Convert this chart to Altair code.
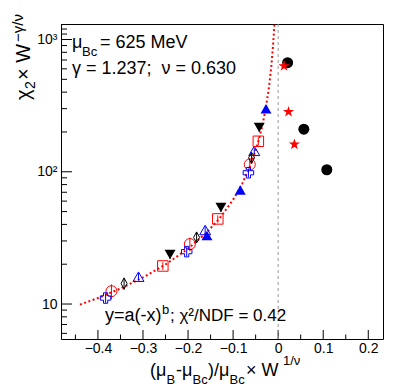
import altair as alt
import pandas as pd

FONT = "Liberation Sans"
NB = "\u00a0"

# ---------------- data ----------------
x_ticks_major = [-0.4, -0.3, -0.2, -0.1, 0.0, 0.1, 0.2]
x_ticks_minor = [-0.45, -0.35, -0.25, -0.15, -0.05, 0.05, 0.15]
y_ticks_major = [10, 100, 1000]
y_ticks_minor = [6, 7, 8, 9, 20, 30, 40, 50, 60, 70, 80, 90,
                 200, 300, 400, 500, 600, 700, 800, 900, 1100, 1200, 1300]
zero_line = [0.0]

circ_x = [-0.370, -0.196, -0.063]
circ_y = [12.5, 28.4, 113.5]
circ_err = [1.6, 3.4, 13.0]

cross_x = [-0.383, -0.203, -0.066]
cross_y = [11.1, 24.9, 98.3]
cross_err = [0.9, 2.0, 7.5]

diam_x = [-0.342, -0.181, -0.059]
diam_y = [14.3, 31.9, 127.6]
diam_err = [1.5, 3.0, 11.0]

otri_x = [-0.310, -0.162, -0.053]
otri_y = [16.1, 36.3, 144.0]
otri_err = [1.0, 2.2, 8.0]

sq_x = [-0.256, -0.134, -0.044]
sq_y = [19.4, 44.0, 170.0]
sq_err = [1.3, 2.8, 11.0]

dtri_x = [-0.240, -0.127, -0.042]
dtri_y = [23.7, 53.7, 216.0]
dtri_err = [1.8, 4.0, 15.0]

utri_x = [-0.158, -0.084, -0.027]
utri_y = [33.0, 72.8, 299.0]
utri_err = [1.5, 3.5, 14.0]

dot_x = [0.021, 0.057, 0.108]
dot_y = [668.0, 210.0, 103.6]

star_x = [0.013, 0.023, 0.036]
star_y = [631.0, 284.0, 161.0]

fit_x = [-0.44, -0.40, -0.35, -0.30, -0.25, -0.20, -0.16, -0.13, -0.10,
         -0.08, -0.06, -0.045, -0.035, -0.027, -0.020, -0.015, -0.011, -0.0083]
fit_y = [9.9, 11.1, 13.1, 15.9, 19.9, 26.2, 34.4, 44.4, 61.4,
         81.0, 115.0, 164.0, 224.0, 309.0, 446.0, 636.0, 935.0, 1310.0]

X_DOMAIN = [-0.482, 0.2327]
Y_DOMAIN = [5.44, 1310]
W, H = 322, 315

# ---------------- scales / axes ----------------
xscale = alt.Scale(domain=X_DOMAIN, nice=False, zero=False)
yscale = alt.Scale(type="log", domain=Y_DOMAIN, nice=False)
xaxis = alt.Axis(values=x_ticks_major, ticks=False, domain=False, grid=False,
                 title=None, labelFont=FONT, labelFontSize=14, labelColor="black",
                 labelPadding=2, labelOverlap=False, labelFlush=False,
                 labelExpr="datum.value == 0 ? '0' : format(datum.value, '.1f')")
yaxis = alt.Axis(values=y_ticks_major, ticks=False, domain=False, grid=False,
                 title=None, labelFont=FONT, labelFontSize=14, labelColor="black",
                 labelPadding=4, labelOverlap=False, labelFlush=False,
                 labelExpr="datum.value == 10 ? '10' : (datum.value == 100 ? '10²' : '10³')")


def X(f="x"):
    return alt.X(f"{f}:Q", scale=xscale, axis=xaxis)


def Y(f="y"):
    return alt.Y(f"{f}:Q", scale=yscale, axis=yaxis)


layers = []

# inward ticks
layers.append(alt.Chart(pd.DataFrame({"x": x_ticks_major})).mark_rule(color="black", strokeWidth=1)
              .encode(x=X(), y=alt.value(H), y2=alt.value(H - 9)))
layers.append(alt.Chart(pd.DataFrame({"x": x_ticks_minor})).mark_rule(color="black", strokeWidth=1)
              .encode(x=X(), y=alt.value(H), y2=alt.value(H - 4.5)))
layers.append(alt.Chart(pd.DataFrame({"y": y_ticks_major})).mark_rule(color="black", strokeWidth=1)
              .encode(y=Y(), x=alt.value(0), x2=alt.value(11)))
layers.append(alt.Chart(pd.DataFrame({"y": y_ticks_minor})).mark_rule(color="black", strokeWidth=1, clip=True)
              .encode(y=Y(), x=alt.value(0), x2=alt.value(6)))

# dashed zero line
layers.append(alt.Chart(pd.DataFrame({"x": zero_line})).mark_rule(color="#9a9a9a", strokeWidth=1, strokeDash=[3, 3])
              .encode(x=X()))

# fit curve
layers.append(alt.Chart(pd.DataFrame({"x": fit_x, "y": fit_y})).mark_line(
    color="#ff0000", strokeWidth=2, strokeDash=[2, 2.5], clip=True)
    .encode(x=X(), y=Y(), order="x:Q"))

STAR = ("M0,-1L0.2245,-0.309L0.951,-0.309L0.363,0.118L0.588,0.809L0,0.382"
        "L-0.588,0.809L-0.363,0.118L-0.951,-0.309L-0.2245,-0.309Z")
THIN_DIAMOND = "M0,-1L0.55,0L0,1L-0.55,0Z"

series = [
    (circ_x, circ_y, circ_err, "circle", False, "#ff0000", 121),
    (cross_x, cross_y, cross_err, "cross", False, "#0000ff", 110),
    (diam_x, diam_y, diam_err, THIN_DIAMOND, False, "black", 121),
    (otri_x, otri_y, otri_err, "triangle-up", False, "#0000ff", 120),
    (sq_x, sq_y, sq_err, "square", False, "#ff0000", 110),
    (dtri_x, dtri_y, dtri_err, "triangle-down", True, "black", 120),
    (utri_x, utri_y, utri_err, "triangle-up", True, "#0000ff", 120),
    (dot_x, dot_y, None, "circle", True, "black", 121),
    (star_x, star_y, None, STAR, True, "#ff0000", 140),
]

for xs, ys, errs, shape, filled, color, size in series:
    d = pd.DataFrame({"x": xs, "y": ys})
    if errs is not None:
        d["lo"] = [v - e for v, e in zip(ys, errs)]
        d["hi"] = [v + e for v, e in zip(ys, errs)]
        layers.append(alt.Chart(d).mark_rule(color=color, strokeWidth=1)
                      .encode(x=X(), y=Y("lo"), y2="hi:Q"))
    layers.append(alt.Chart(d).mark_point(shape=shape, filled=filled, size=size, color=color,
                                          strokeWidth=1, opacity=1)
                  .encode(x=X(), y=Y()))

# ---------------- text ----------------
one = pd.DataFrame({"k": [0]})


def txt(s, x, y, size, angle=0):
    return alt.Chart(one).mark_text(text=s, font=FONT, fontSize=size, align="left",
                                    baseline="alphabetic", angle=angle, color="black").encode(
        x=alt.value(x), y=alt.value(y))


# in-plot annotations
layers += [
    txt("μ", 11, 24, 18),
    txt("Bc", 21, 32, 13),
    txt("= 625 MeV", 39, 24, 18),
    txt("γ = 1.237;" + NB + NB + "ν = 0.630", 11, 50, 18),
    txt("y=a(-x)", 44, 297, 18),
    txt("b", 101, 290, 13),
    txt(";" + NB + "χ²/NDF = 0.42", 109, 297, 17),
]

# x-axis title
layers += [
    txt("(μ", 89, 352, 18),
    txt("B", 105.5, 360, 13),
    txt("-μ", 115, 352, 18),
    txt("Bc", 131.5, 360, 13),
    txt(")/μ", 147, 352, 18),
    txt("Bc", 168.5, 360, 13),
    txt("× W", 185, 352, 18),
    txt("1/ν", 222, 341, 13),
]

# y-axis title (rotated)
layers += [
    txt("χ", -31, 76, 20, 270),
    txt("2", -26, 65, 14, 270),
    txt("× W", -31, 56, 20, 270),
    txt("−γ/ν", -38, 18, 15, 270),
]

chart = alt.layer(*layers).properties(
    width=W, height=H,
    autosize=alt.AutoSizeParams(type="none"),
    padding={"left": 53, "top": 16, "right": 10, "bottom": 48},
).configure_view(stroke="black", strokeWidth=1)

chart.save("out.html", embed_options={"renderer": "svg", "actions": False})
